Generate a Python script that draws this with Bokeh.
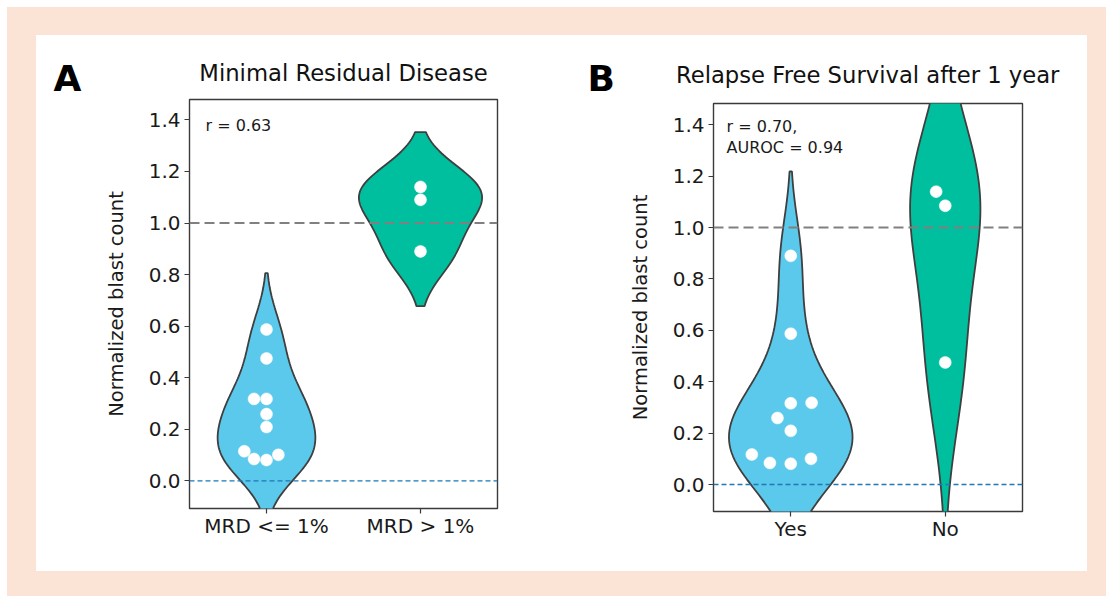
import numpy as np
from bokeh.plotting import figure
from bokeh.models import Range1d, FixedTicker, Label, Span
from bokeh.core.properties import value
from bokeh.layouts import row, column
from bokeh.embed import file_html
from bokeh.resources import INLINE

# ---------------- data ----------------
cats_A = ["MRD <= 1%", "MRD > 1%"]
mrd_low = [0.081, 0.085, 0.101, 0.115, 0.209, 0.259, 0.318, 0.318, 0.475, 0.587]
mrd_low_offset = [0.0, -0.081, 0.077, -0.144, 0.0, 0.0, 0.0, -0.081, 0.0, 0.0]
mrd_high = [0.89, 1.09, 1.14]
mrd_high_offset = [0.0, 0.0, 0.0]

cats_B = ["Yes", "No"]
rfs_yes = [0.081, 0.084, 0.100, 0.117, 0.209, 0.259, 0.316, 0.318, 0.587, 0.89]
rfs_yes_offset = [0.0, -0.135, 0.131, -0.252, 0.0, -0.086, 0.0, 0.135, 0.0, 0.0]
rfs_no = [0.475, 1.085, 1.14]
rfs_no_offset = [0.0, 0.0, -0.059]

y_ticks = [0.0, 0.2, 0.4, 0.6, 0.8, 1.0, 1.2, 1.4]
titles = ["Minimal Residual Disease", "Relapse Free Survival after 1 year"]
letters = ["A", "B"]
notes_A = ["r = 0.63"]
notes_B = ["r = 0.70,", "AUROC = 0.94"]
y_label = "Normalized blast count"

# ---------------- style ----------------
PEACH = "#FBE3D6"
BLUE = "#5BC9EC"
GREEN = "#00BF9F"
EDGE = "#3F3F3F"
FONT = "DejaVu Sans"
HEADER_W, HEADER_H = 1051, 63


def kde_violin(vals, gridsize=100, cut=2):
    v = np.asarray(vals, dtype=float)
    bw = v.std(ddof=1) * len(v) ** (-1 / 5)
    support = np.linspace(v.min() - cut * bw, v.max() + cut * bw, gridsize)
    z = (support[:, None] - v[None, :]) / bw
    dens = np.exp(-0.5 * z ** 2).sum(axis=1) / (len(v) * bw * np.sqrt(2 * np.pi))
    return support, dens


def make_header():
    h = figure(width=HEADER_W, height=HEADER_H, x_range=Range1d(0, HEADER_W),
               y_range=Range1d(0, HEADER_H), output_backend="svg", toolbar_location=None,
               x_axis_type=None, y_axis_type=None, min_border=0, title=None)
    h.outline_line_color = None
    h.grid.visible = False
    h.border_fill_color = "white"
    h.background_fill_color = "white"
    # panel letters
    h.text(x=[31, 564.6], y=[20, 20], text=letters, text_font=value(FONT),
           text_font_size="36px", text_font_style="bold", text_align="center",
           text_baseline="alphabetic", text_color="#000000")
    # panel titles
    h.text(x=[307, 831.2], y=[26, 24], text=titles, text_font=value(FONT),
           text_font_size="22.7px", text_align="center", text_baseline="alphabetic",
           text_color="#111111")
    return h


def make_panel(cats, groups, offsets, colors, notes, width, height, borders, yr, note_dx, note_down):
    bl, br, bt, bb = borders
    fh = height - bt - bb
    p = figure(width=width, height=height, x_range=Range1d(-0.5, 1.5), y_range=Range1d(*yr),
               output_backend="svg", toolbar_location=None, title=None,
               min_border_left=bl, min_border_right=br, min_border_top=bt, min_border_bottom=bb)
    p.border_fill_color = "white"
    p.background_fill_color = "white"
    p.outline_line_color = "#3a3a3a"
    p.outline_line_width = 1.4
    p.grid.visible = False

    # violins (seaborn style: scott bw, cut=2, area scaling, width 0.8)
    shapes = [kde_violin(g) for g in groups]
    dmax = max(d.max() for _, d in shapes)
    for i, ((sup, dens), col) in enumerate(zip(shapes, colors)):
        half = dens / dmax * 0.4
        xs = np.concatenate([i + half, (i - half)[::-1]])
        ys = np.concatenate([sup, sup[::-1]])
        p.patch(xs, ys, fill_color=col, line_color=EDGE, line_width=1.8)

    # reference lines
    p.add_layout(Span(location=1.0, dimension="width", line_color="#808080",
                      line_dash="10 5", line_width=2.0))
    p.add_layout(Span(location=0.0, dimension="width", line_color="#1f77b4",
                      line_dash="5 3", line_width=1.3))

    # swarm points
    for i, (g, off) in enumerate(zip(groups, offsets)):
        p.scatter([i + o for o in off], g, size=12, fill_color="white",
                  line_color="white", line_width=0.5)

    # axes
    p.xaxis.ticker = FixedTicker(ticks=[0, 1])
    p.xaxis.major_label_overrides = {0: cats[0], 1: cats[1]}
    p.yaxis.ticker = FixedTicker(ticks=y_ticks)
    p.yaxis.major_label_overrides = {t: f"{t:.1f}" for t in y_ticks}
    for ax in (p.xaxis, p.yaxis):
        ax.axis_line_color = None
        ax.major_tick_in = 0
        ax.major_tick_out = 5
        ax.major_tick_line_color = "#3a3a3a"
        ax.major_tick_line_width = 1.2
        ax.minor_tick_line_color = None
        ax.major_label_text_font = FONT
        ax.major_label_text_font_size = "20px"
        ax.major_label_text_color = "#1a1a1a"
    p.yaxis.major_label_standoff = 4
    p.xaxis.major_label_standoff = 0
    p.yaxis.axis_label = y_label
    p.yaxis.axis_label_text_font = FONT
    p.yaxis.axis_label_text_font_size = "19.5px"
    p.yaxis.axis_label_text_font_style = "normal"
    p.yaxis.axis_label_text_color = "#1a1a1a"
    p.yaxis.axis_label_standoff = 18

    for k, t in enumerate(notes):
        p.add_layout(Label(x=note_dx, y=fh - note_down - 21 * k, x_units="screen", y_units="screen",
                           text=t, text_font=FONT, text_font_size="16px",
                           text_align="left", text_baseline="middle", text_color="#1a1a1a"))
    return p


header = make_header()
pA = make_panel(cats_A, [mrd_low, mrd_high], [mrd_low_offset, mrd_high_offset], [BLUE, GREEN],
                notes_A, 524, 473, (153, 63, 1, 63), (-0.107, 1.479), note_dx=16, note_down=26)
pB = make_panel(cats_B, [rfs_yes, rfs_no], [rfs_yes_offset, rfs_no_offset], [BLUE, GREEN],
                notes_B, 527, 473, (153, 65, 5, 60), (-0.105, 1.483), note_dx=13, note_down=23)

panels = row(column(pA), column(pB))
inner = column(header, panels, styles={"background-color": "white"}, margin=(28, 19, 25, 29))
outer = column(inner, styles={"background-color": PEACH}, margin=(7, 0, 0, 7))

open("out.html", "w").write(file_html(outer, INLINE))
